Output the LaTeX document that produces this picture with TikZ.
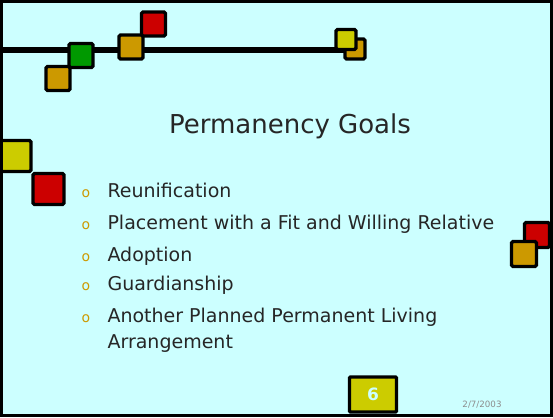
\documentclass[tikz,border=0pt]{standalone}
\usepackage{fontspec}
\setmainfont{DejaVu Sans}
\usepackage{tikz}
\usetikzlibrary{positioning}
\definecolor{slideBg}{HTML}{CCFFFF}
\definecolor{sqYellow}{HTML}{CCCC00}
\definecolor{sqRed}{HTML}{CC0000}
\definecolor{sqGreen}{HTML}{009900}
\definecolor{sqOrange}{HTML}{CC9900}
\definecolor{dateGray}{gray}{0.55}

\begin{document}
\begin{tikzpicture}[x=1pt, y=-1pt,
    sq/.style={draw=black, line width=3.4pt, rounded corners=1.5pt, inner sep=0pt, minimum size=24pt},
    bullet/.style={anchor=base west, font=\fontsize{19}{21}\selectfont, text=black!85},
    bulletmark/.style={anchor=base, font=\fontsize{14}{15}\selectfont, text=sqOrange}]
    \useasboundingbox (0,0) rectangle (553,417);
    \fill[slideBg] (0,0) rectangle (553,417);

    % top rule with the squares
    \draw[line width=6pt] (0,50.5) -- (347,50.5);
    \node[sq, fill=sqOrange] (oLow) at (58,78.5) {};
    \node[sq, fill=sqGreen] (green) at (81,55.5) {};
    \node[sq, fill=sqOrange] (oMid) at (131,47) {};
    \node[sq, fill=sqRed] (rTop) at (153.5,24) {};
    \node[sq, fill=sqOrange, minimum size=20pt] (oEnd) at (355,49) {};
    \node[sq, fill=sqYellow, minimum size=20pt] (yEnd) at (346,39.5) {};

    % left and right pairs
    \node[sq, fill=sqYellow, minimum size=31pt] (yLeft) at (15.5,156) {};
    \node[sq, fill=sqRed, minimum size=31pt] (rLeft) at (48.5,189) {};
    \node[sq, fill=sqRed, minimum size=25pt] (rRight) at (537,235) {};
    \node[sq, fill=sqOrange, minimum size=25pt] (oRight) at (524,254) {};

    % title
    \node[anchor=base, font=\fontsize{26}{29}\selectfont, text=black!85] (title) at (290,133) {Permanency Goals};

    % bullets
    \foreach \y/\txt [count=\i] in {197/Reunification, 229/Placement with a Fit and Willing Relative,
        261/Adoption, 290/Guardianship, 322/Another Planned Permanent Living} {
        \node[bulletmark] (m\i) at (86,\y) {o};
        \node[bullet] (b\i) at (104,\y) {\txt};
    }
    \node[bullet] (b6) at (104,348) {Arrangement};

    % slide number and date
    \node[sq, fill=sqYellow, minimum width=47pt, minimum height=35pt, rounded corners=1pt] (pageBox) at (373,394.5) {};
    \node[font=\fontsize{17}{18}\selectfont\bfseries, text=slideBg] (pageNum) at (pageBox) {6};
    \node[font=\fontsize{8.7}{9}\selectfont, text=dateGray] (date) at (482,405) {2/7/2003};

    % frame
    \draw[line width=3pt] (1.5,1.5) rectangle (551.5,415.5);
\end{tikzpicture}
\end{document}
